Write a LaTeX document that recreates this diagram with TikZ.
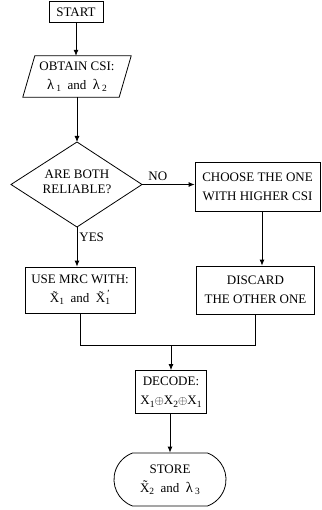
\documentclass[tikz,border=0pt]{standalone}
\usepackage{fontspec}
\setmainfont{Liberation Serif}
\usetikzlibrary{arrows.meta,shapes.misc,calc}
\newcommand\fsz{\fontsize{13}{19}\selectfont}
\newcommand\sbs[1]{\raisebox{-0.4ex}{\fontsize{9.5}{10}\selectfont #1}}
\newcommand\lam{{\fontsize{14.5}{19}\selectfont λ}}
\begin{document}
\begin{tikzpicture}[x=1pt,y=-1pt,
  box/.style={draw, line width=0.8pt, align=center, inner sep=0pt, font=\fsz},
  lbl/.style={font=\fsz, inner sep=0pt, align=center},
  arr/.style={-{Latex[length=6pt,width=5pt]}, line width=0.8pt},
  ln/.style={line width=0.8pt}]
\useasboundingbox (0,0) rectangle (321,510);

% START
\node[box, minimum width=54, minimum height=21] (start) at (76,12) {START};

% OBTAIN CSI (parallelogram)
\node[lbl, minimum width=96, minimum height=41] (obtain) at (77,76.5)
  {OBTAIN CSI:\\ \lam\,\sbs{1} \ and \ \lam\,\sbs{2}};
\draw[ln] ($(obtain.south west)+(-6,0)$) -- ($(obtain.north west)+(6,0)$)
  -- ($(obtain.north east)+(6,0)$) -- ($(obtain.south east)+(-6,0)$) -- cycle;

% Decision diamond
\node[lbl, font=\fontsize{13}{15}\selectfont] (q) at (77,182) {ARE BOTH\\RELIABLE?};
\coordinate (qn) at (77,142);
\coordinate (qs) at (77,227);
\coordinate (qw) at (11,184.5);
\coordinate (qe) at (142,184.5);
\draw[ln] (qn) -- (qe) -- (qs) -- (qw) -- cycle;

% Right branch
\node[box, minimum width=125, minimum height=49] (choose) at (257.5,186.5)
  {CHOOSE THE ONE\\WITH HIGHER CSI};
\node[box, minimum width=118, minimum height=48] (discard) at (255.5,290)
  {DISCARD\\THE OTHER ONE};

% Left branch
\node[box, minimum width=110, minimum height=46] (mrc) at (80,290)
  {USE MRC WITH:\\ \~{X}\sbs{1} \ and \ \~{X}\makebox[0pt][l]{\raisebox{1.1ex}{\fontsize{9.5}{10}\selectfont\,'}}\sbs{1}};

% Decode and store
\node[box, minimum width=71, minimum height=43] (decode) at (171,392)
  {DECODE:\\ X\sbs{1}$\oplus$X\sbs{2}$\oplus$X\sbs{1}};
\node[box, rounded rectangle, rounded rectangle arc length=140,
  minimum width=112, minimum height=53] (store) at (170,479.5)
  {STORE\\ \~{X}\sbs{2} \ and \ \lam\,\sbs{3}};

\coordinate (ax) at (262,0);
\coordinate (mj) at (0,345);

% Connectors
\draw[arr] (start.south) -- (start.south |- obtain.north);
\draw[arr] (obtain.south) -- (qn);
\draw[arr] (qe) -- node[lbl, above=3pt, pos=0.3] (no) {NO} (qe -| choose.west);
\draw[arr] (qs) -- node[lbl, right=2pt, pos=0.25] (yes) {YES} (qs |- mrc.north);
\draw[arr] (choose.south -| ax) -- (discard.north -| ax);
\draw[ln] (mrc.south) -- (mrc.south |- mj) -- (discard.south |- mj) -- (discard.south);
\draw[arr] (decode.north |- mj) -- (decode.north);
\draw[arr] (decode.south -| store.north) -- (store.north);
\end{tikzpicture}
\end{document}
